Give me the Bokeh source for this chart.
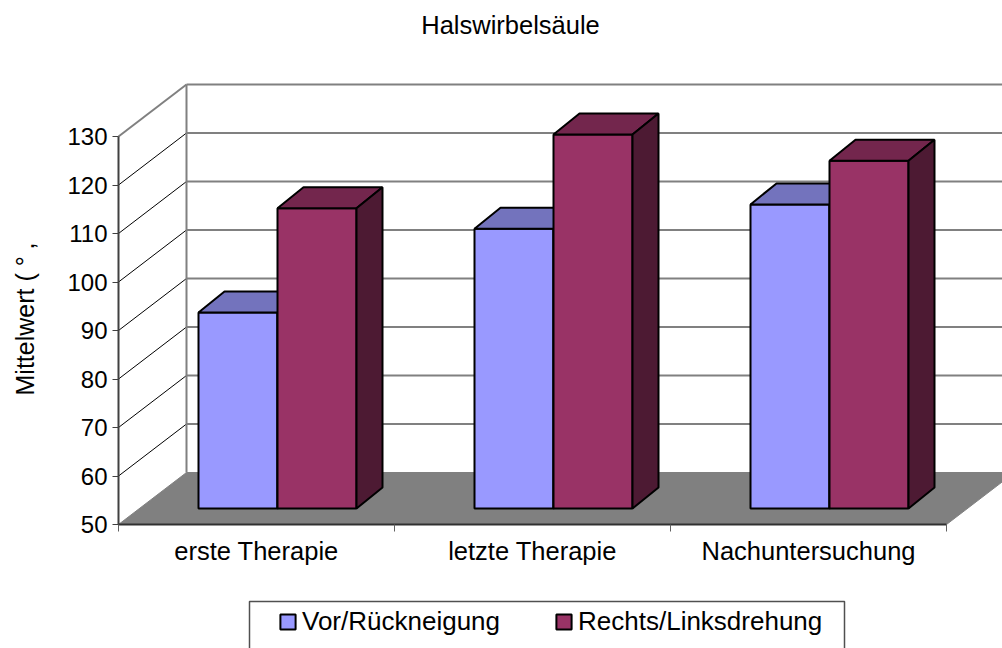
from bokeh.plotting import figure
from bokeh.embed import file_html
from bokeh.resources import INLINE
from bokeh.models import (Range1d, LinearAxis, FixedTicker, Legend, LegendItem, Label, BoxAnnotation)
from math import pi

categories = ["erste Therapie", "letzte Therapie", "Nachuntersuchung"]
series_names = ["Vor/Rückneigung", "Rechts/Linksdrehung"]
vor = [90.4, 107.7, 112.7]
rechts = [111.9, 127.1, 121.7]
y_ticks = [50, 60, 70, 80, 90, 100, 110, 120, 130]
title_text = "Halswirbelsäule"
ylabel_text = "Mittelwert ( ° ,"

FONT = "Liberation Sans"
W, H = 1002, 648
ORIGIN_X, ORIGIN_Y = 118, 524   # where category 0 / value 50 lie on the page
PX_X = 276.0    # pixels per category
PX_Y = 4.85     # pixels per value unit
# depth of the 3D box and of the bars, in data units
WALL_DX, WALL_DY = 68 / PX_X, 52 / PX_Y
BAR_DX, BAR_DY = 26 / PX_X, 21 / PX_Y
PLANE_DY = 16 / PX_Y
BAR_START = 80 / PX_X
BAR_W = 79 / PX_X

p = figure(width=W, height=H, output_backend="svg", toolbar_location=None,
           x_range=Range1d(-ORIGIN_X / PX_X, (W - ORIGIN_X) / PX_X),
           y_range=Range1d(50 - (H - ORIGIN_Y) / PX_Y, 50 + ORIGIN_Y / PX_Y),
           x_axis_type=None, y_axis_type=None,
           min_border_left=0, min_border_right=0, min_border_top=0, min_border_bottom=0,
           outline_line_color=None, background_fill_color="white", border_fill_color="white")
p.grid.visible = False

GRAY = "#808080"
# floor
floor_top = 50 + WALL_DY
p.patch([0, WALL_DX, 3 + WALL_DX, 3], [50, floor_top, floor_top, 50],
        fill_color=GRAY, line_color=GRAY, line_width=1)
# back wall and side wall lines
for t in y_ticks:
    if t > 50:
        p.line([WALL_DX, 3 + WALL_DX], [t + WALL_DY, t + WALL_DY], line_color=GRAY, line_width=2)
        color, w = (GRAY, 2) if t == 130 else ("black", 1)
        p.line([0, WALL_DX], [t, t + WALL_DY], line_color=color, line_width=w)
p.line([WALL_DX, WALL_DX], [50 + WALL_DY, 130 + WALL_DY], line_color=GRAY, line_width=2)

legend_items = []
styles = [("#9999FF", "#7373BD", "#4D4D80"), ("#993366", "#73264D", "#4D1A33")]
for s, (vals, name) in enumerate(zip([vor, rechts], series_names)):
    front, top, side = styles[s]
    lefts = [i + BAR_START + s * BAR_W for i in range(3)]
    rights = [x + BAR_W for x in lefts]
    tops = [v + PLANE_DY for v in vals]
    bottom = 50 + PLANE_DY
    r = p.quad(left=lefts, right=rights, top=tops, bottom=bottom,
               fill_color=front, line_color="black", line_width=2)
    p.patches([[x0, x1, x1 + BAR_DX, x0 + BAR_DX] for x0, x1 in zip(lefts, rights)],
              [[y, y, y + BAR_DY, y + BAR_DY] for y in tops],
              fill_color=top, line_color="black", line_width=2)
    p.patches([[x1, x1 + BAR_DX, x1 + BAR_DX, x1] for x1 in rights],
              [[bottom, bottom + BAR_DY, y + BAR_DY, y] for y in tops],
              fill_color=side, line_color="black", line_width=2)
    legend_items.append(LegendItem(label=name, renderers=[r]))

# value axis, held at the left end of the category scale
yaxis = LinearAxis(ticker=FixedTicker(ticks=y_ticks), bounds=(50, 130), fixed_location=0,
                   axis_line_color="#404040", axis_line_width=2,
                   major_tick_line_color="#404040", major_tick_line_width=1,
                   major_tick_in=0, major_tick_out=6, minor_tick_line_color=None,
                   major_label_text_font=FONT, major_label_text_font_size="24px",
                   major_label_text_color="black", major_label_standoff=5)
p.add_layout(yaxis, "left")

# category axis: tick marks at the borders, labels at the centres
xaxis = LinearAxis(ticker=FixedTicker(ticks=[0, 1, 2, 3]), bounds=(0, 3), fixed_location=50,
                   major_label_overrides={0: "", 1: "", 2: "", 3: ""},
                   axis_line_color="#303030", axis_line_width=2,
                   major_tick_line_color="#606060", major_tick_line_width=1,
                   major_tick_in=0, major_tick_out=7, minor_tick_line_color=None,
                   major_label_text_font_size="1px", major_label_standoff=0)
p.add_layout(xaxis, "below")
xlab = LinearAxis(ticker=FixedTicker(ticks=[0.5, 1.5, 2.5]), fixed_location=50,
                  major_label_overrides={0.5: categories[0], 1.5: categories[1], 2.5: categories[2]},
                  axis_line_color=None, major_tick_line_color=None, minor_tick_line_color=None,
                  major_label_text_font=FONT, major_label_text_font_size="25.5px",
                  major_label_text_color="black", major_label_standoff=6)
p.add_layout(xlab, "below")

# title and rotated axis label
p.add_layout(Label(x=510, y=H - 24, x_units="screen", y_units="screen", text=title_text,
                   text_font=FONT, text_font_size="25.5px", text_color="black",
                   text_align="center", text_baseline="middle"))
p.add_layout(Label(x=24, y=H - 395, x_units="screen", y_units="screen", text=ylabel_text,
                   angle=pi / 2, text_font=FONT, text_font_size="25px", text_color="black",
                   text_align="left", text_baseline="middle"))

# legend box reaches past the lower edge of the picture
p.add_layout(BoxAnnotation(left=249, right=844, top=H - 601, bottom=-10,
                           left_units="screen", right_units="screen",
                           top_units="screen", bottom_units="screen",
                           fill_color="white", fill_alpha=1,
                           line_color="#505050", line_alpha=1, line_width=1.5))
legend = Legend(items=legend_items, orientation="horizontal", location=(278, 11),
                background_fill_alpha=0, border_line_color=None,
                label_text_font=FONT, label_text_font_size="26px", label_text_color="black",
                glyph_width=19, glyph_height=19, label_standoff=5, spacing=54, padding=0, margin=0)
p.add_layout(legend, "center")

open("out.html", "w").write(file_html(p, INLINE))
